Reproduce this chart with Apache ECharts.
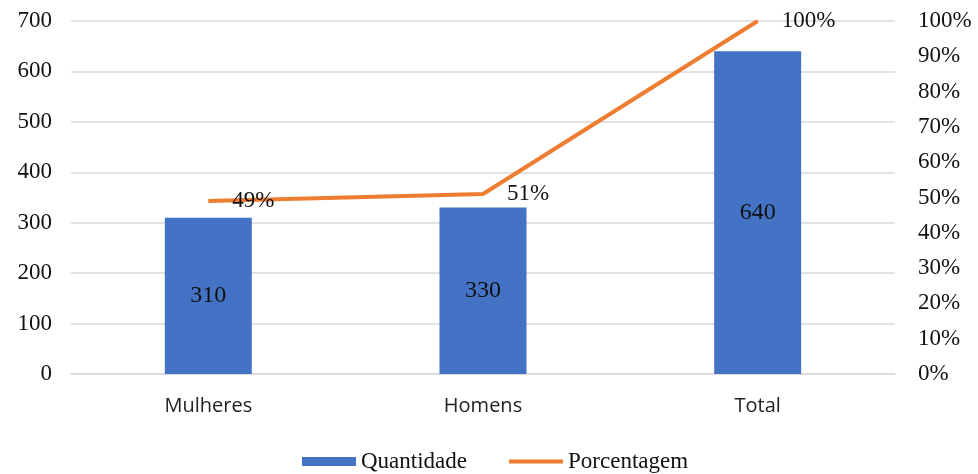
<!DOCTYPE html>
<html>
<head>
<meta charset="utf-8">
<script src="https://cdn.jsdelivr.net/npm/echarts@6/dist/echarts.min.js"></script>
<style>
  html, body { margin: 0; padding: 0; background: #fff; }
  #chart { width: 978px; height: 474px; }
</style>
</head>
<body>
<div id="chart"></div>
<script>
// Categories and values
const categories = ['Mulheres', 'Homens', 'Total'];
const quantidade = [310, 330, 640];
const porcentagem = [49, 51, 100];
const leftTicks = [0, 100, 200, 300, 400, 500, 600, 700];
const rightTicks = [0, 10, 20, 30, 40, 50, 60, 70, 80, 90, 100];

const serif = '"Liberation Serif", "Times New Roman", serif';
const sans = '"Open Sans", "Liberation Sans", sans-serif';

const chart = echarts.init(document.getElementById('chart'));
chart.setOption({
  animation: false,
  grid: { left: 71, right: 83, top: 21, bottom: 100 },
  legend: {
    top: 450,
    left: 302,
    padding: 0,
    itemGap: 42,
    itemWidth: 54,
    itemHeight: 9,
    textStyle: { fontFamily: serif, fontSize: 23, color: '#111' },
    data: [
      { name: 'Quantidade', icon: 'rect' },
      { name: 'Porcentagem', icon: 'path://M0,0 L0,0 M0,2.5 L54,2.5 L54,6.5 L0,6.5 Z M54,9 L54,9' }
    ]
  },
  xAxis: {
    type: 'category',
    data: categories,
    axisLine: { show: true, lineStyle: { color: '#d9d9d9', width: 1.5 } },
    axisTick: { show: false },
    axisLabel: { fontFamily: sans, fontSize: 20, color: '#222', margin: 22 }
  },
  yAxis: [
    {
      type: 'value',
      min: leftTicks[0],
      max: leftTicks[leftTicks.length - 1],
      interval: 100,
      axisLine: { show: false },
      axisTick: { show: false },
      splitLine: { lineStyle: { color: '#d9d9d9', width: 1.5 } },
      axisLabel: { fontFamily: serif, fontSize: 23, color: '#111', margin: 19 }
    },
    {
      type: 'value',
      min: rightTicks[0],
      max: rightTicks[rightTicks.length - 1],
      interval: 10,
      axisLine: { show: false },
      axisTick: { show: false },
      splitLine: { show: false },
      axisLabel: { fontFamily: serif, fontSize: 23, color: '#111', margin: 23, formatter: '{value}%' }
    }
  ],
  series: [
    {
      name: 'Quantidade',
      type: 'bar',
      data: quantidade,
      barWidth: 87,
      itemStyle: { color: '#4472C4' },
      label: {
        show: true,
        position: 'inside',
        fontFamily: serif,
        fontSize: 24,
        color: '#111'
      }
    },
    {
      name: 'Porcentagem',
      type: 'line',
      yAxisIndex: 1,
      data: porcentagem,
      symbol: 'circle',
      symbolSize: 0,
      showSymbol: true,
      lineStyle: { color: '#ED7D31', width: 4 },
      itemStyle: { color: '#ED7D31' },
      label: {
        show: true,
        position: 'right',
        distance: 24,
        fontFamily: serif,
        fontSize: 23,
        color: '#111',
        formatter: '{c}%'
      }
    }
  ]
});
</script>
</body>
</html>
